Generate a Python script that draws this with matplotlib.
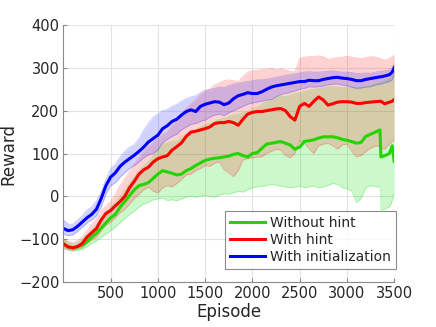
import matplotlib
matplotlib.use("Agg")
import matplotlib.pyplot as plt
import numpy as np

episodes = [0, 50, 100, 150, 200, 250, 300, 350, 400, 450, 500, 550, 600, 650, 700, 750,
            800, 850, 900, 950, 1000, 1050, 1100, 1150, 1200, 1250, 1300, 1350, 1400, 1450,
            1500, 1550, 1600, 1650, 1700, 1750, 1800, 1850, 1900, 1950, 2000, 2050, 2100,
            2150, 2200, 2250, 2300, 2350, 2400, 2450, 2500, 2550, 2600, 2650, 2700, 2750,
            2800, 2850, 2900, 2950, 3000, 3050, 3100, 3150, 3200, 3250, 3300, 3350, 3360,
            3400, 3450, 3480, 3500]

# With initialization (blue)
init_mean = [-75, -80, -78, -70, -60, -50, -42, -30, -5, 25, 45, 55, 70, 80, 88, 96,
             105, 115, 127, 135, 143, 158, 165, 175, 180, 190, 198, 202, 198, 210,
             215, 218, 221, 220, 214, 218, 228, 235, 238, 242, 240, 240, 244,
             250, 255, 258, 260, 262, 264, 266, 268, 268, 271, 270, 270, 273,
             275, 277, 278, 276, 275, 273, 270, 270, 273, 275, 277, 279, 279,
             281, 284, 290, 300]
init_upper = [-55, -65, -65, -55, -45, -32, -25, -10, 10, 40, 65, 75, 92, 105, 115, 120,
              135, 155, 170, 185, 192, 200, 203, 210, 215, 222, 228, 232, 235, 242,
              248, 250, 252, 255, 254, 258, 262, 264, 266, 268, 270, 272, 272,
              274, 275, 278, 280, 283, 284, 286, 288, 290, 291, 290, 290, 291,
              292, 293, 291, 290, 290, 289, 287, 287, 288, 287, 290, 292, 292,
              293, 295, 300, 312]
init_lower = [-88, -92, -90, -82, -72, -62, -55, -45, -25, 5, 25, 32, 45, 55, 65, 72,
              80, 90, 97, 100, 108, 125, 133, 140, 145, 155, 162, 168, 170, 175,
              178, 185, 190, 192, 188, 195, 200, 205, 210, 215, 218, 220, 222,
              225, 226, 232, 238, 240, 243, 246, 250, 252, 256, 255, 256, 258,
              260, 262, 262, 260, 258, 255, 252, 253, 255, 256, 260, 262, 262,
              265, 268, 272, 285]

# With hint (red)
hint_mean = [-111, -118, -120, -117, -110, -95, -85, -75, -55, -40, -33, -22, -12, 0, 20, 35,
             52, 62, 68, 80, 88, 92, 95, 108, 116, 125, 140, 150, 152, 155,
             158, 162, 170, 172, 172, 175, 172, 166, 180, 192, 196, 198, 198,
             200, 202, 204, 205, 200, 186, 178, 210, 217, 210, 222, 232, 225,
             213, 216, 220, 221, 221, 220, 217, 217, 219, 220, 221, 222, 222,
             216, 220, 222, 226]
hint_upper = [-100, -105, -108, -104, -94, -80, -65, -52, -35, -22, -12, 5, 25, 42, 58, 75,
              90, 105, 115, 125, 135, 145, 150, 165, 175, 190, 205, 215, 225, 238,
              245, 250, 260, 265, 270, 272, 270, 268, 280, 290, 293, 294, 296,
              297, 299, 295, 298, 295, 292, 290, 322, 325, 326, 326, 328, 326,
              320, 322, 324, 325, 327, 325, 323, 322, 324, 326, 325, 322, 320,
              318, 322, 326, 330]
hint_lower = [-122, -125, -126, -124, -120, -110, -102, -95, -80, -68, -60, -50, -38, -30, -18, -5,
              5, 15, 22, 12, 8, 20, 25, 22, 30, 40, 50, 52, 60, 65,
              72, 70, 78, 80, 62, 55, 46, 60, 85, 88, 90, 92, 92,
              100, 105, 110, 108, 95, 90, 100, 130, 125, 110, 100, 118, 122,
              124, 118, 110, 120, 122, 105, 92, 95, 105, 112, 118, 116, 112,
              110, 122, 128, 131]

# Without hint (green)
nohint_mean = [-110, -118, -121, -118, -114, -106, -95, -86, -74, -62, -50, -42, -25, -12, 2, 15,
               25, 28, 32, 42, 52, 60, 57, 54, 50, 52, 60, 65, 72, 78,
               84, 87, 89, 90, 92, 94, 98, 100, 95, 92, 100, 102, 112,
               122, 124, 126, 128, 124, 120, 110, 115, 128, 130, 132, 136, 139,
               139, 139, 137, 133, 131, 128, 124, 126, 140, 145, 150, 155, 92,
               95, 100, 118, 82]
nohint_upper = [-100, -108, -112, -108, -100, -90, -78, -66, -52, -38, -25, -15, 0, 15, 30, 45,
                60, 72, 80, 95, 110, 122, 125, 128, 130, 138, 145, 150, 155, 162,
                168, 170, 175, 180, 182, 186, 190, 192, 195, 198, 205, 208, 215,
                222, 225, 230, 235, 232, 236, 240, 242, 245, 248, 250, 252, 254,
                256, 256, 255, 254, 255, 256, 254, 255, 256, 258, 262, 266, 266,
                270, 274, 280, 287]
nohint_lower = [-118, -125, -128, -126, -124, -118, -110, -104, -96, -88, -80, -72, -62, -52, -42, -35,
                -25, -18, -14, -8, -6, -4, -10, -8, -10, -6, -2, 0, -2, 0,
                2, 0, -2, 3, 6, 5, 8, 12, 10, 15, 20, 22, 24,
                25, 28, 26, 24, 22, 20, 22, 24, 20, 22, 24, 20, 22,
                25, 30, 28, 20, 18, 12, -15, -5, 20, 25, 22, 22, -32,
                -30, -25, -10, 5]

labels = ["Without hint", "With hint", "With initialization"]
xticks = [500, 1000, 1500, 2000, 2500, 3000, 3500]
yticks = [-200, -100, 0, 100, 200, 300, 400]

fig = plt.figure(figsize=(4.36, 3.27), dpi=100)
ax = fig.add_axes([0.1456, 0.1376, 0.7584, 0.7859])

green = "#22d400"
red = "#ff0000"
blue = "#0000ff"

series = [
    (nohint_mean, nohint_lower, nohint_upper, green, "#00e000"),
    (hint_mean, hint_lower, hint_upper, red, "#ff2020"),
    (init_mean, init_lower, init_upper, blue, "#2020ff"),
]
for mean, lo, up, c, fc in series:
    ax.fill_between(episodes, lo, up, color=fc, alpha=0.2, linewidth=0)
    ax.plot(episodes, lo, color=fc, alpha=0.25, lw=0.6)
    ax.plot(episodes, up, color=fc, alpha=0.25, lw=0.6)

handles = []
for (mean, lo, up, c, fc), lab in zip(series, labels):
    h, = ax.plot(episodes, mean, color=c, lw=2.2, label=lab)
    handles.append(h)

ax.set_xlim(1, 3500)
ax.set_ylim(-200, 400)
ax.set_xticks(xticks)
ax.set_yticks(yticks)
ax.grid(True, color="#e3e3e3", lw=0.8)
ax.set_axisbelow(True)
for s in ["top", "right"]:
    ax.spines[s].set_visible(False)
for s in ["left", "bottom"]:
    ax.spines[s].set_color("#8a8a8a")
    ax.spines[s].set_linewidth(0.8)
ax.tick_params(direction="in", length=3, color="#8a8a8a", labelsize=10.5,
               labelcolor="#262626", pad=3)
ax.set_xlabel("Episode", fontsize=12, color="#262626", labelpad=1)
ax.set_ylabel("Reward", fontsize=12, color="#262626")
ax.yaxis.set_label_coords(-0.138, 0.5)

leg = ax.legend(handles=handles, loc="lower right", bbox_to_anchor=(1.006, 0.052),
                fontsize=10, frameon=True, fancybox=False, handlelength=2.5,
                handletextpad=0.4, borderpad=0.35, labelspacing=0.2, borderaxespad=0.0)
leg.get_frame().set_edgecolor("#6e6e6e")
leg.get_frame().set_linewidth(0.8)
for t in leg.get_texts():
    t.set_color("#262626")

fig.savefig("out.png", dpi=100)
